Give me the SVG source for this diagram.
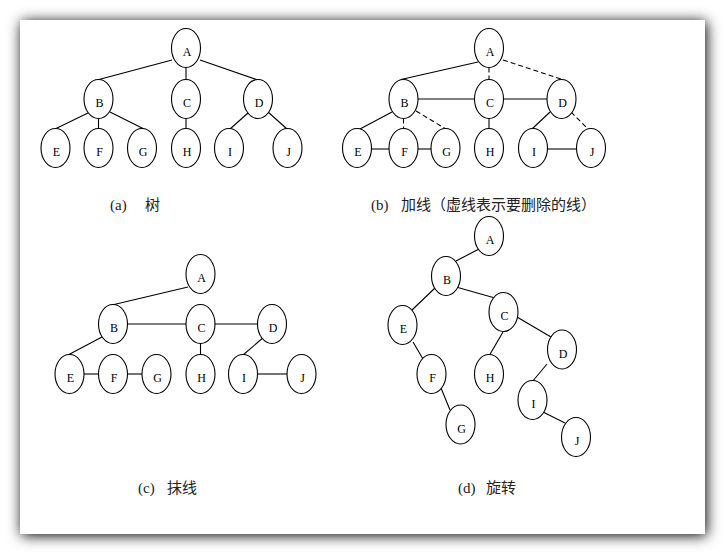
<svg xmlns="http://www.w3.org/2000/svg" width="726" height="555" viewBox="0 0 726 555">
<defs>
<filter id="sh" x="-10%" y="-10%" width="120%" height="120%">
<feDropShadow dx="1.5" dy="1.5" stdDeviation="7" flood-color="#000" flood-opacity="1"/>
</filter>
<style>
.n ellipse{fill:#fff;stroke:#000;stroke-width:1.1}
.n text{font-family:"Liberation Serif","Times New Roman",serif;font-size:12px;text-anchor:middle;fill:#000}
.e line{stroke:#000;stroke-width:1.1}
.e line.d{stroke-dasharray:5 3}
.cap{font-family:"Liberation Serif","Noto Sans CJK SC",serif;font-size:15px;fill:#222}
</style>
</defs>
<rect x="0" y="0" width="726" height="555" fill="#fff"/>
<rect x="20" y="20" width="685" height="514" fill="#fff" filter="url(#sh)"/>

<g id="connectors" class="e">
<!-- (a) -->
<line x1="172" y1="60" x2="99" y2="79.5"/>
<line x1="186" y1="67.5" x2="186" y2="79.5"/>
<line x1="200" y1="60" x2="258" y2="80"/>
<line x1="88" y1="113" x2="55" y2="129"/>
<line x1="98.5" y1="118.5" x2="98.5" y2="128.5"/>
<line x1="110" y1="112" x2="144" y2="129"/>
<line x1="186" y1="118.5" x2="186" y2="128.5"/>
<line x1="248" y1="113" x2="230" y2="129"/>
<line x1="268" y1="112" x2="287" y2="129"/>
<!-- (b) -->
<line x1="478" y1="62" x2="401" y2="79.5"/>
<line class="d" x1="489" y1="67.5" x2="489" y2="79.5"/>
<line class="d" x1="503" y1="60" x2="564" y2="80"/>
<line x1="418" y1="99" x2="474.5" y2="99"/>
<line x1="503.5" y1="99" x2="547" y2="99"/>
<line x1="392" y1="112" x2="360" y2="129"/>
<line class="d" x1="403.5" y1="118.5" x2="403.5" y2="128.5"/>
<line class="d" x1="416" y1="111" x2="446" y2="129"/>
<line x1="489" y1="118.5" x2="489" y2="128.5"/>
<line x1="550" y1="112" x2="532" y2="129"/>
<line class="d" x1="571" y1="112" x2="588" y2="129"/>
<line x1="371.5" y1="149" x2="389" y2="149"/>
<line x1="418" y1="149" x2="431" y2="149"/>
<line x1="547.5" y1="149" x2="576.5" y2="149"/>
<!-- (c) -->
<line x1="188" y1="287" x2="112" y2="305"/>
<line x1="127.5" y1="324" x2="186" y2="324"/>
<line x1="215" y1="324" x2="257.5" y2="324"/>
<line x1="200.5" y1="343.5" x2="200.5" y2="354.5"/>
<line x1="102" y1="337" x2="68" y2="355"/>
<line x1="84" y1="374" x2="98.5" y2="374"/>
<line x1="127.5" y1="374" x2="142" y2="374"/>
<line x1="264" y1="337" x2="243" y2="355"/>
<line x1="257.5" y1="374" x2="287" y2="374"/>
<!-- (d) -->
<line x1="479" y1="249" x2="456" y2="261"/>
<line x1="435" y1="288" x2="412" y2="310"/>
<line x1="456" y1="287" x2="495" y2="298"/>
<line x1="413" y1="342" x2="423" y2="359"/>
<line x1="503" y1="332" x2="489" y2="356"/>
<line x1="517" y1="317" x2="551" y2="337"/>
<line x1="441" y1="388" x2="450" y2="410"/>
<line x1="547" y1="364" x2="532" y2="382"/>
<line x1="543" y1="412" x2="565" y2="423"/>
</g>

<!-- (a) nodes -->
<g id="a-A" class="n"><ellipse cx="186" cy="48" rx="14.5" ry="19.5"/><text x="187" y="56">A</text></g>
<g id="a-B" class="n"><ellipse cx="98.5" cy="99" rx="14.5" ry="19.5"/><text x="99.5" y="107">B</text></g>
<g id="a-C" class="n"><ellipse cx="186" cy="99" rx="14.5" ry="19.5"/><text x="187" y="107">C</text></g>
<g id="a-D" class="n"><ellipse cx="258" cy="99" rx="14.5" ry="19.5"/><text x="259" y="107">D</text></g>
<g id="a-E" class="n"><ellipse cx="55.5" cy="148" rx="14.5" ry="19.5"/><text x="56.5" y="156">E</text></g>
<g id="a-F" class="n"><ellipse cx="98.5" cy="148" rx="14.5" ry="19.5"/><text x="99.5" y="156">F</text></g>
<g id="a-G" class="n"><ellipse cx="142" cy="148" rx="14.5" ry="19.5"/><text x="143" y="156">G</text></g>
<g id="a-H" class="n"><ellipse cx="186" cy="148" rx="14.5" ry="19.5"/><text x="187" y="156">H</text></g>
<g id="a-I" class="n"><ellipse cx="229" cy="148" rx="14.5" ry="19.5"/><text x="230" y="156">I</text></g>
<g id="a-J" class="n"><ellipse cx="287.5" cy="148" rx="14.5" ry="19.5"/><text x="288.5" y="156">J</text></g>

<!-- (b) nodes -->
<g id="b-A" class="n"><ellipse cx="489" cy="48" rx="14.5" ry="19.5"/><text x="490" y="56">A</text></g>
<g id="b-B" class="n"><ellipse cx="403.5" cy="99" rx="14.5" ry="19.5"/><text x="404.5" y="107">B</text></g>
<g id="b-C" class="n"><ellipse cx="489" cy="99" rx="14.5" ry="19.5"/><text x="490" y="107">C</text></g>
<g id="b-D" class="n"><ellipse cx="561.5" cy="99" rx="14.5" ry="19.5"/><text x="562.5" y="107">D</text></g>
<g id="b-E" class="n"><ellipse cx="357" cy="148" rx="14.5" ry="19.5"/><text x="358" y="156">E</text></g>
<g id="b-F" class="n"><ellipse cx="403.5" cy="148" rx="14.5" ry="19.5"/><text x="404.5" y="156">F</text></g>
<g id="b-G" class="n"><ellipse cx="445.5" cy="148" rx="14.5" ry="19.5"/><text x="446.5" y="156">G</text></g>
<g id="b-H" class="n"><ellipse cx="489" cy="148" rx="14.5" ry="19.5"/><text x="490" y="156">H</text></g>
<g id="b-I" class="n"><ellipse cx="533" cy="148" rx="14.5" ry="19.5"/><text x="534" y="156">I</text></g>
<g id="b-J" class="n"><ellipse cx="591" cy="148" rx="14.5" ry="19.5"/><text x="592" y="156">J</text></g>

<!-- (c) nodes -->
<g id="c-A" class="n"><ellipse cx="200.5" cy="274" rx="14.5" ry="19.5"/><text x="201.5" y="282">A</text></g>
<g id="c-B" class="n"><ellipse cx="113" cy="324" rx="14.5" ry="19.5"/><text x="114" y="332">B</text></g>
<g id="c-C" class="n"><ellipse cx="200.5" cy="324" rx="14.5" ry="19.5"/><text x="201.5" y="332">C</text></g>
<g id="c-D" class="n"><ellipse cx="272" cy="324" rx="14.5" ry="19.5"/><text x="273" y="332">D</text></g>
<g id="c-E" class="n"><ellipse cx="69.5" cy="374" rx="14.5" ry="19.5"/><text x="70.5" y="382">E</text></g>
<g id="c-F" class="n"><ellipse cx="113" cy="374" rx="14.5" ry="19.5"/><text x="114" y="382">F</text></g>
<g id="c-G" class="n"><ellipse cx="156.5" cy="374" rx="14.5" ry="19.5"/><text x="157.5" y="382">G</text></g>
<g id="c-H" class="n"><ellipse cx="200.5" cy="374" rx="14.5" ry="19.5"/><text x="201.5" y="382">H</text></g>
<g id="c-I" class="n"><ellipse cx="243" cy="374" rx="14.5" ry="19.5"/><text x="244" y="382">I</text></g>
<g id="c-J" class="n"><ellipse cx="301.5" cy="374" rx="14.5" ry="19.5"/><text x="302.5" y="382">J</text></g>

<!-- (d) nodes -->
<g id="d-A" class="n"><ellipse cx="489" cy="236" rx="14.5" ry="19.5"/><text x="490" y="244">A</text></g>
<g id="d-B" class="n"><ellipse cx="446" cy="276" rx="14.5" ry="19.5"/><text x="447" y="284">B</text></g>
<g id="d-C" class="n"><ellipse cx="503.5" cy="312" rx="14.5" ry="19.5"/><text x="504.5" y="320">C</text></g>
<g id="d-D" class="n"><ellipse cx="562" cy="349.5" rx="14.5" ry="19.5"/><text x="563" y="357.5">D</text></g>
<g id="d-E" class="n"><ellipse cx="402.5" cy="325" rx="14.5" ry="19.5"/><text x="403.5" y="333">E</text></g>
<g id="d-F" class="n"><ellipse cx="431.5" cy="374" rx="14.5" ry="19.5"/><text x="432.5" y="382">F</text></g>
<g id="d-G" class="n"><ellipse cx="460.5" cy="424.5" rx="14.5" ry="19.5"/><text x="461.5" y="432.5">G</text></g>
<g id="d-H" class="n"><ellipse cx="489" cy="374" rx="14.5" ry="19.5"/><text x="490" y="382">H</text></g>
<g id="d-I" class="n"><ellipse cx="532.5" cy="400" rx="14.5" ry="19.5"/><text x="533.5" y="408">I</text></g>
<g id="d-J" class="n"><ellipse cx="576" cy="437" rx="14.5" ry="19.5"/><text x="577" y="445">J</text></g>

<!-- captions -->
<text class="cap" y="210"><tspan x="110">(a)</tspan><tspan x="145">树</tspan></text>
<text class="cap" y="210"><tspan x="371">(b)</tspan><tspan x="401">加线（虚线表示要删除的线）</tspan></text>
<text class="cap" y="493"><tspan x="138">(c)</tspan><tspan x="167">抹线</tspan></text>
<text class="cap" y="493"><tspan x="458">(d)</tspan><tspan x="486">旋转</tspan></text>
</svg>
